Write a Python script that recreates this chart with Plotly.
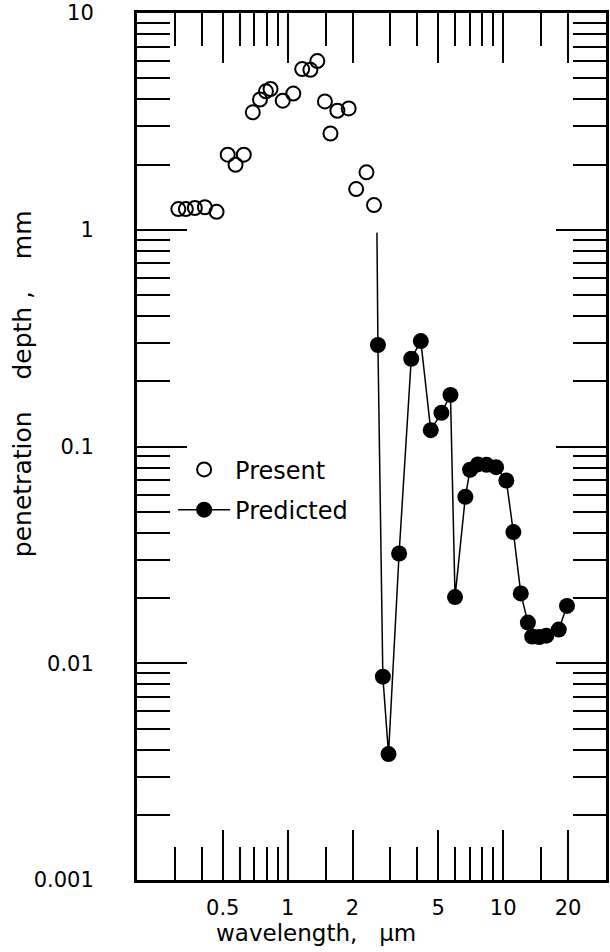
import plotly.graph_objects as go

# ---- data ----
present_x = [0.311, 0.337, 0.371, 0.413, 0.468, 0.527, 0.573, 0.626, 0.689, 0.744,
             0.793, 0.833, 0.949, 1.062, 1.168, 1.275, 1.373, 1.489, 1.580, 1.701,
             1.919, 2.079, 2.321, 2.515]
present_y = [1.246, 1.246, 1.26, 1.27, 1.21, 2.22, 1.995, 2.22, 3.48, 3.99,
             4.35, 4.46, 3.94, 4.25, 5.51, 5.47, 6.0, 3.91, 2.78, 3.54,
             3.63, 1.54, 1.84, 1.30]

predicted_x = [2.623, 2.765, 2.937, 3.289, 3.745, 4.148, 4.611, 5.169, 5.694, 5.978,
               6.674, 7.020, 7.624, 8.374, 9.268, 10.34, 11.15, 12.07, 13.02, 13.63,
               14.70, 15.85, 18.10, 19.77]
predicted_y = [0.294, 0.00867, 0.00381, 0.0321, 0.254, 0.3066, 0.119, 0.143, 0.173, 0.0202,
               0.0586, 0.0781, 0.0827, 0.0823, 0.0803, 0.0697, 0.0403, 0.021, 0.0154, 0.01328,
               0.01321, 0.0134, 0.0143, 0.01838]

# the predicted curve's line begins above its first marker
line_start_x = [2.596]
line_start_y = [0.97]

x_major = [0.5, 1, 2, 5, 10, 20]
x_major_text = ["0.5", "1", "2", "5", "10", "20"]
x_minor = [0.3, 0.4, 0.6, 0.7, 0.8, 0.9, 1.5, 3, 4, 6, 7, 8, 9, 15]

y_major = [0.001, 0.01, 0.1, 1, 10]
y_major_text = ["0.001", "0.01", "0.1", "1", "10"]
y_minor = [m * d for d in [0.001, 0.01, 0.1, 1] for m in range(2, 10)]

FONT = "DejaVu Sans"

fig = go.Figure()

fig.add_trace(go.Scatter(
    x=present_x, y=present_y, mode="markers", name="Present",
    marker=dict(symbol="circle-open", size=14, color="black", line=dict(width=2, color="black")),
))

fig.add_trace(go.Scatter(
    x=line_start_x + predicted_x[:1], y=line_start_y + predicted_y[:1], mode="lines",
    line=dict(color="black", width=1.5), showlegend=False, hoverinfo="skip",
))

fig.add_trace(go.Scatter(
    x=predicted_x, y=predicted_y, mode="lines+markers", name="Predicted",
    line=dict(color="black", width=1.5),
    marker=dict(symbol="circle", size=16, color="black"),
    legendgroup="pred",
))

axis_common = dict(
    type="log",
    showline=True, linewidth=3, linecolor="black",
    mirror="allticks",
    ticks="inside", ticklen=50, tickwidth=1.6, tickcolor="black",
    showgrid=False, zeroline=False,
    tickfont=dict(family=FONT, size=21, color="black"),
)

fig.update_xaxes(
    **axis_common,
    range=[-0.699, 1.477],
    tickmode="array", tickvals=x_major, ticktext=x_major_text,
    ticklabelstandoff=7,
    minor=dict(tickmode="array", tickvals=x_minor, ticks="inside", ticklen=33,
               tickwidth=1.6, tickcolor="black", showgrid=False),
)

fig.update_yaxes(
    **axis_common,
    range=[-3, 1],
    tickmode="array", tickvals=y_major, ticktext=y_major_text,
    ticklabelstandoff=36,
    minor=dict(tickmode="array", tickvals=y_minor, ticks="inside", ticklen=33,
               tickwidth=1.6, tickcolor="black", showgrid=False),
)

fig.add_annotation(
    text="wavelength,   \u03bcm", xref="paper", yref="paper",
    x=0.381, y=-0.061, xanchor="center", yanchor="middle", showarrow=False,
    font=dict(family=FONT, size=23, color="black"),
)
fig.add_annotation(
    text="penetration    depth ,    mm", xref="paper", yref="paper",
    x=-0.245, y=0.572, xanchor="center", yanchor="middle", showarrow=False,
    textangle=-90,
    font=dict(family=FONT, size=25, color="black"),
)

fig.update_layout(
    width=610, height=952,
    margin=dict(l=137, r=1, t=13, b=72),
    paper_bgcolor="white", plot_bgcolor="white",
    showlegend=True,
    legend=dict(
        x=0.077, y=0.499, xanchor="left", yanchor="top",
        bgcolor="rgba(0,0,0,0)", borderwidth=0,
        font=dict(family=FONT, size=24, color="black"),
        itemwidth=52, tracegroupgap=6, traceorder="grouped",
    ),
)

fig.write_html(
    "out.html",
    config={"displayModeBar": False},
    post_script="document.body.style.margin='0';document.body.style.overflow='hidden';",
)
